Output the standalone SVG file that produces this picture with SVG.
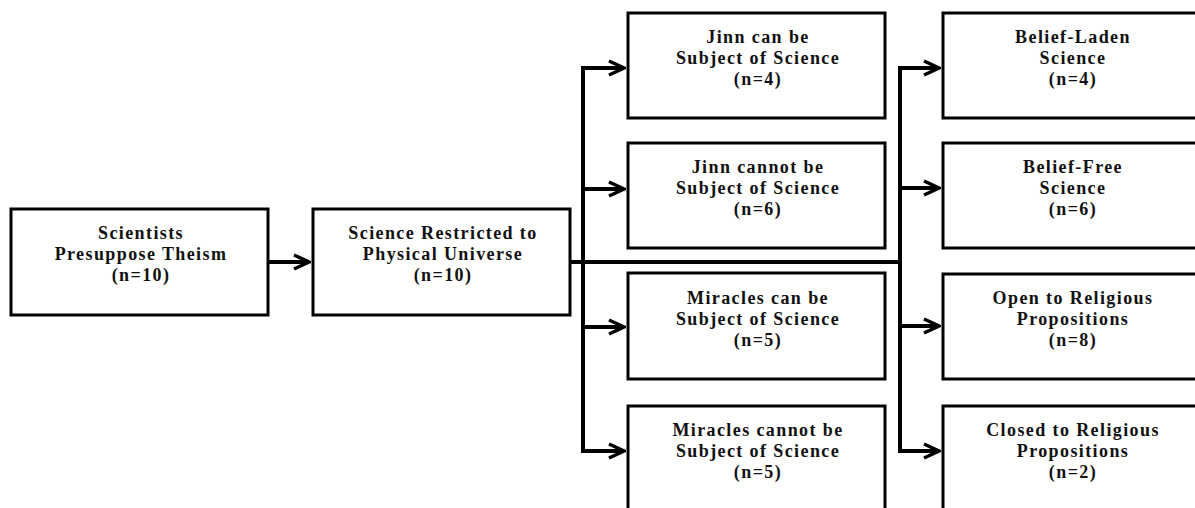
<svg xmlns="http://www.w3.org/2000/svg" width="1195" height="508" viewBox="0 0 1195 508">
  <style>
    .box { fill: #ffffff; stroke: #000000; stroke-width: 3; }
    .lbl { font-family: "Liberation Serif", "Times New Roman", serif; font-weight: bold; font-size: 18px; letter-spacing: 1.4px; fill: #111111; text-anchor: middle; }
    .con { fill: none; stroke: #000000; stroke-width: 4; stroke-linejoin: miter; }
  </style>
  <defs>
    <marker id="arr" viewBox="-20 -10 22 20" refX="0" refY="0" markerWidth="22" markerHeight="20" markerUnits="userSpaceOnUse" orient="auto-start-reverse">
      <path d="M-15,-7 L0,0 L-15,7" fill="none" stroke="#000000" stroke-width="3.5" stroke-linejoin="miter"/>
    </marker>
  </defs>
  <rect width="1195" height="508" fill="#ffffff"/>

  <g id="connectors">
    <path class="con" d="M268,262 H309" marker-end="url(#arr)"/>
    <path class="con" d="M570,262 H902"/>
    <path class="con" d="M624,68 H583 V451 H624" marker-start="url(#arr)" marker-end="url(#arr)"/>
    <path class="con" d="M583,189 H624" marker-end="url(#arr)"/>
    <path class="con" d="M583,327 H624" marker-end="url(#arr)"/>
    <path class="con" d="M939,68 H900 V451 H939" marker-start="url(#arr)" marker-end="url(#arr)"/>
    <path class="con" d="M900,188 H939" marker-end="url(#arr)"/>
    <path class="con" d="M900,326 H939" marker-end="url(#arr)"/>
  </g>

  <g id="node-theism">
    <rect class="box" x="11" y="209" width="257" height="106"/>
    <text class="lbl" x="141" y="239">Scientists</text>
    <text class="lbl" x="141" y="260">Presuppose Theism</text>
    <text class="lbl" x="141" y="281">(n=10)</text>
  </g>
  <g id="node-restricted">
    <rect class="box" x="313" y="209" width="257" height="106"/>
    <text class="lbl" x="443" y="239">Science Restricted to</text>
    <text class="lbl" x="443" y="260">Physical Universe</text>
    <text class="lbl" x="443" y="281">(n=10)</text>
  </g>

  <g id="node-jinn-can">
    <rect class="box" x="628" y="13" width="257" height="105"/>
    <text class="lbl" x="758" y="43">Jinn can be</text>
    <text class="lbl" x="758" y="64">Subject of Science</text>
    <text class="lbl" x="758" y="85">(n=4)</text>
  </g>
  <g id="node-jinn-cannot">
    <rect class="box" x="628" y="143" width="257" height="105"/>
    <text class="lbl" x="758" y="173">Jinn cannot be</text>
    <text class="lbl" x="758" y="194">Subject of Science</text>
    <text class="lbl" x="758" y="215">(n=6)</text>
  </g>
  <g id="node-miracles-can">
    <rect class="box" x="628" y="273" width="257" height="106"/>
    <text class="lbl" x="758" y="304">Miracles can be</text>
    <text class="lbl" x="758" y="325">Subject of Science</text>
    <text class="lbl" x="758" y="346">(n=5)</text>
  </g>
  <g id="node-miracles-cannot">
    <rect class="box" x="628" y="406" width="257" height="120"/>
    <text class="lbl" x="758" y="436">Miracles cannot be</text>
    <text class="lbl" x="758" y="457">Subject of Science</text>
    <text class="lbl" x="758" y="478">(n=5)</text>
  </g>

  <g id="node-belief-laden">
    <rect class="box" x="943" y="13" width="258" height="105"/>
    <text class="lbl" x="1073" y="43">Belief-Laden</text>
    <text class="lbl" x="1073" y="64">Science</text>
    <text class="lbl" x="1073" y="85">(n=4)</text>
  </g>
  <g id="node-belief-free">
    <rect class="box" x="943" y="143" width="258" height="105"/>
    <text class="lbl" x="1073" y="173">Belief-Free</text>
    <text class="lbl" x="1073" y="194">Science</text>
    <text class="lbl" x="1073" y="215">(n=6)</text>
  </g>
  <g id="node-open">
    <rect class="box" x="943" y="274" width="258" height="105"/>
    <text class="lbl" x="1073" y="304">Open to Religious</text>
    <text class="lbl" x="1073" y="325">Propositions</text>
    <text class="lbl" x="1073" y="346">(n=8)</text>
  </g>
  <g id="node-closed">
    <rect class="box" x="943" y="406" width="258" height="120"/>
    <text class="lbl" x="1073" y="436">Closed to Religious</text>
    <text class="lbl" x="1073" y="457">Propositions</text>
    <text class="lbl" x="1073" y="478">(n=2)</text>
  </g>
</svg>
